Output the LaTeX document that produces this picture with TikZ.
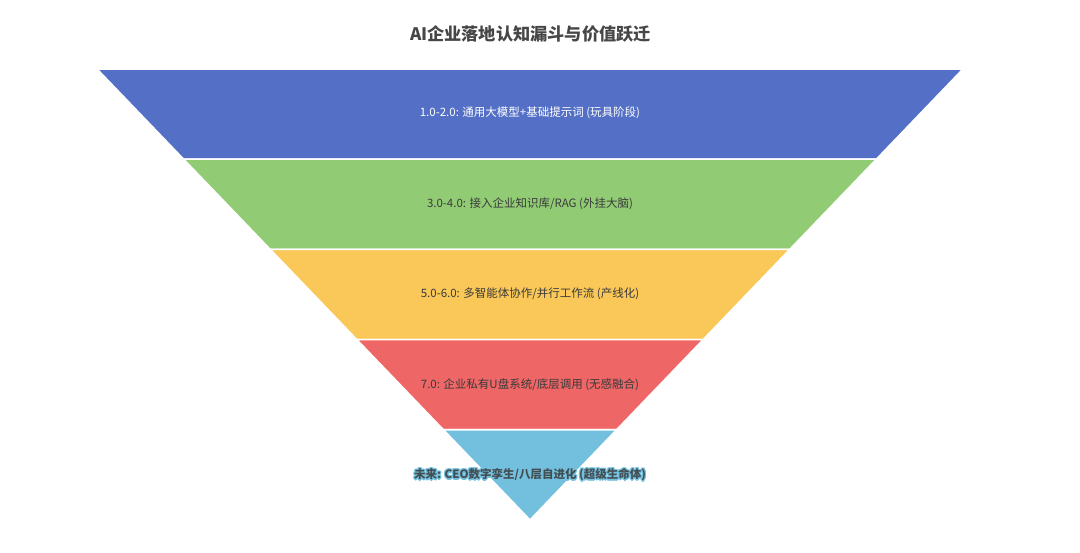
\documentclass[tikz,border=0pt]{standalone}
\usepackage{fontspec}
\setmainfont{Noto Sans CJK SC}
\usepackage{xcolor}
\usepackage{tikz}

\definecolor{bandA}{HTML}{5470C6}
\definecolor{bandB}{HTML}{91CC75}
\definecolor{bandC}{HTML}{FAC858}
\definecolor{bandD}{HTML}{EE6666}
\definecolor{bandE}{HTML}{73C0DE}
\definecolor{titlegray}{HTML}{464646}
\definecolor{labelgray}{HTML}{3A3A3A}

\begin{document}
\begin{tikzpicture}[x=1pt, y=-1pt,
        band/.style={draw=white, line width=1.6pt, line join=miter},
        lbl/.style={font=\fontsize{11.5}{13}\selectfont, text=labelgray, inner sep=0pt}]
        \useasboundingbox (0,0) rectangle (1080,553);

        \node[font=\fontsize{17.2}{20}\selectfont\bfseries, text=titlegray] (title) at (530.5,34) {AI企业落地认知漏斗与价值跃迁};

        % funnel corners
        \coordinate (l0) at (97,69);      \coordinate (r0) at (963,69);
        \coordinate (l1) at (183.6,159.2); \coordinate (r1) at (876.4,159.2);
        \coordinate (l2) at (270.2,249.4); \coordinate (r2) at (789.8,249.4);
        \coordinate (l3) at (356.8,339.6); \coordinate (r3) at (703.2,339.6);
        \coordinate (l4) at (443.4,429.8); \coordinate (r4) at (616.6,429.8);
        \coordinate (tip) at (530,520);

        \filldraw[band, fill=bandA] (l0) -- (r0) -- (r1) -- (l1) -- cycle;
        \filldraw[band, fill=bandB] (l1) -- (r1) -- (r2) -- (l2) -- cycle;
        \filldraw[band, fill=bandC] (l2) -- (r2) -- (r3) -- (l3) -- cycle;
        \filldraw[band, fill=bandD] (l3) -- (r3) -- (r4) -- (l4) -- cycle;
        \filldraw[band, fill=bandE] (l4) -- (r4) -- (tip) -- cycle;

        \node[lbl, text=white] (s1) at (530,113) {1.0-2.0: 通用大模型+基础提示词 (玩具阶段)};
        \node[lbl] (s2) at (530,203.5) {3.0-4.0: 接入企业知识库/RAG (外挂大脑)};
        \node[lbl] (s3) at (530,294) {5.0-6.0: 多智能体协作/并行工作流 (产线化)};
        \node[lbl] (s4) at (530,384.5) {7.0: 企业私有U盘系统/底层调用 (无感融合)};

        % halo round the last label
        \foreach \dx/\dy [count=\i] in {-1.3/0, 1.3/0, 0/-1.3, 0/1.3, -1/-1, 1/-1, -1/1, 1/1}
          \node[lbl, text=bandE, font=\fontsize{11.5}{13}\selectfont\bfseries] (halo\i) at (530+\dx,475+\dy) {未来: CEO数字孪生/八层自进化 (超级生命体)};
        \node[lbl, text=labelgray!85!bandE, font=\fontsize{11.5}{13}\selectfont\bfseries] (s5) at (530,475) {未来: CEO数字孪生/八层自进化 (超级生命体)};
\end{tikzpicture}
\end{document}
